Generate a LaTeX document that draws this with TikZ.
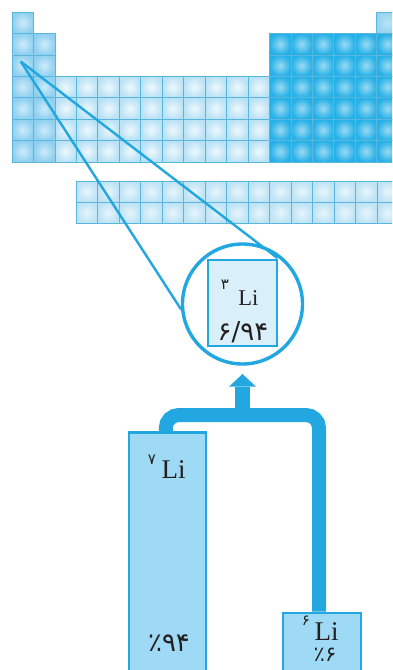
\documentclass[tikz,border=0pt]{standalone}
\usepackage{fontspec}
\setmainfont{Liberation Serif}
\newfontfamily\fa[Script=Arabic]{DejaVu Sans}
\usetikzlibrary{calc}
\definecolor{cyanline}{HTML}{22A7E0}
\definecolor{gridc}{HTML}{5AB6DD}
\definecolor{sOuter}{HTML}{8FD0F0}
\definecolor{sInner}{HTML}{CDEBF9}
\definecolor{dOuter}{HTML}{B9E2F5}
\definecolor{dInner}{HTML}{EEF8FD}
\definecolor{pOuter}{HTML}{25B0E6}
\definecolor{pInner}{HTML}{9ADAF4}
\definecolor{heOuter}{HTML}{97D3F1}
\definecolor{heInner}{HTML}{B8E3F6}
\definecolor{fOuter}{HTML}{BDE3F5}
\definecolor{fInner}{HTML}{E8F5FC}
\definecolor{isofill}{HTML}{9ED9F5}
\definecolor{liboxfill}{HTML}{D9EFF9}
\definecolor{txt}{HTML}{231F20}
\newcommand\ptcell[3]{\path[#3] ({12+(#1-1)*21.45},{12+(#2-1)*21.45}) rectangle ++(21.45,21.45);}
\newcommand\fcell[2]{\path[cellF] ({76+#1*21.5},{181+#2*21.2}) rectangle ++(21.5,21.2);}
\tikzset{
  cellS/.style={draw=gridc, line width=0.7pt, inner color=sInner, outer color=sOuter},
  cellD/.style={draw=gridc, line width=0.7pt, inner color=dInner, outer color=dOuter},
  cellP/.style={draw=gridc, line width=0.7pt, inner color=pInner, outer color=pOuter},
  cellHe/.style={draw=gridc, line width=0.7pt, inner color=heInner, outer color=heOuter},
  cellF/.style={draw=gridc, line width=0.7pt, inner color=fInner, outer color=fOuter},
  zoomline/.style={draw=cyanline, line width=2.4pt},
  isobox/.style={draw=cyanline, line width=2.5pt, fill=isofill, inner sep=0pt},
  conn/.style={draw=cyanline, line width=14pt, rounded corners=13pt},
  symbig/.style={font=\fontsize{27}{27}\selectfont, text=txt, anchor=base, inner sep=0pt, text height=18pt, text depth=0pt},
  symsmall/.style={font=\fontsize{22.5}{22.5}\selectfont, text=txt, anchor=base, inner sep=0pt, text height=15pt, text depth=0pt},
  zlabel/.style={font=\fa\fontsize{15}{15}\selectfont, text=txt, inner sep=0pt, text height=8pt, text depth=0pt},
  plabel/.style={font=\fa\fontsize{26}{26}\selectfont, text=txt, inner sep=0pt, text height=15pt, text depth=2pt},
}
\begin{document}
\begin{tikzpicture}[x=1pt,y=-1pt]
\useasboundingbox (0,0) rectangle (392,670);
\clip (0,0) rectangle (392,670);
\fill[white] (0,0) rectangle (392,670);
% periodic table
\foreach \r in {1,...,7}{\ptcell{1}{\r}{cellS}}
\foreach \r in {2,...,7}{\ptcell{2}{\r}{cellS}}
\foreach \c in {3,...,12}{\foreach \r in {4,...,7}{\ptcell{\c}{\r}{cellD}}}
\foreach \c in {13,...,18}{\foreach \r in {2,...,7}{\ptcell{\c}{\r}{cellP}}}
\ptcell{18}{1}{cellHe}
\foreach \c in {0,...,14}{\foreach \r in {0,1}{\fcell{\c}{\r}}}
% magnifier
\coordinate (apex) at (20.7,61.5);
\node[circle, draw=cyanline, line width=3.4pt, fill=white, minimum size=120pt, inner sep=0pt] (licirc) at (242.5,304) {};
\draw[zoomline] (apex) -- (licirc.185);
\node[draw=cyanline, line width=2.6pt, fill=liboxfill, minimum width=69pt, minimum height=86pt, inner sep=0pt] (libox) at (242.5,303) {};
\draw[zoomline, shorten >=1pt] (apex) -- (libox.north east);
\node[symsmall] (li3sym) at (248.3,305) {Li};
\node[zlabel, anchor=base] (li3z) at (225,289) {۳};
\node[plabel, anchor=base] (li3m) at (243,340.5) {۶/۹۴};
% isotope boxes
\node[isobox, minimum width=77pt, minimum height=260pt, anchor=north] (lbox) at (167.5,431) {};
\node[isobox, minimum width=78pt, minimum height=80pt, anchor=north] (rbox) at (322,611.5) {};
\coordinate (bar) at (242.5,415);
\draw[conn] ($(lbox.north)+(-1.7,0)$) |- (bar) -| ($(rbox.north)+(-3,0)$);
\draw[draw=cyanline, line width=15pt] (bar) -- ($(licirc.south)+(0,21)$);
\fill[cyanline] ($(licirc.south)+(0,8.25)$) -- ++(13.5,12.75) -- ++(-27,0) -- cycle;
\node[symbig] (li7sym) at (173.5,478.5) {Li};
\node[zlabel, anchor=base] (li7z) at (152,464) {۷};
\node[plabel, anchor=base] (li7p) at (169,651) {٪۹۴};
\node[symbig] (li6sym) at (326.5,640) {Li};
\node[zlabel, anchor=base] (li6z) at (306,625) {۶};
\node[plabel, font=\fa\fontsize{21}{21}\selectfont, text height=11pt, anchor=base] (li6p) at (325,661) {٪۶};
\end{tikzpicture}
\end{document}
